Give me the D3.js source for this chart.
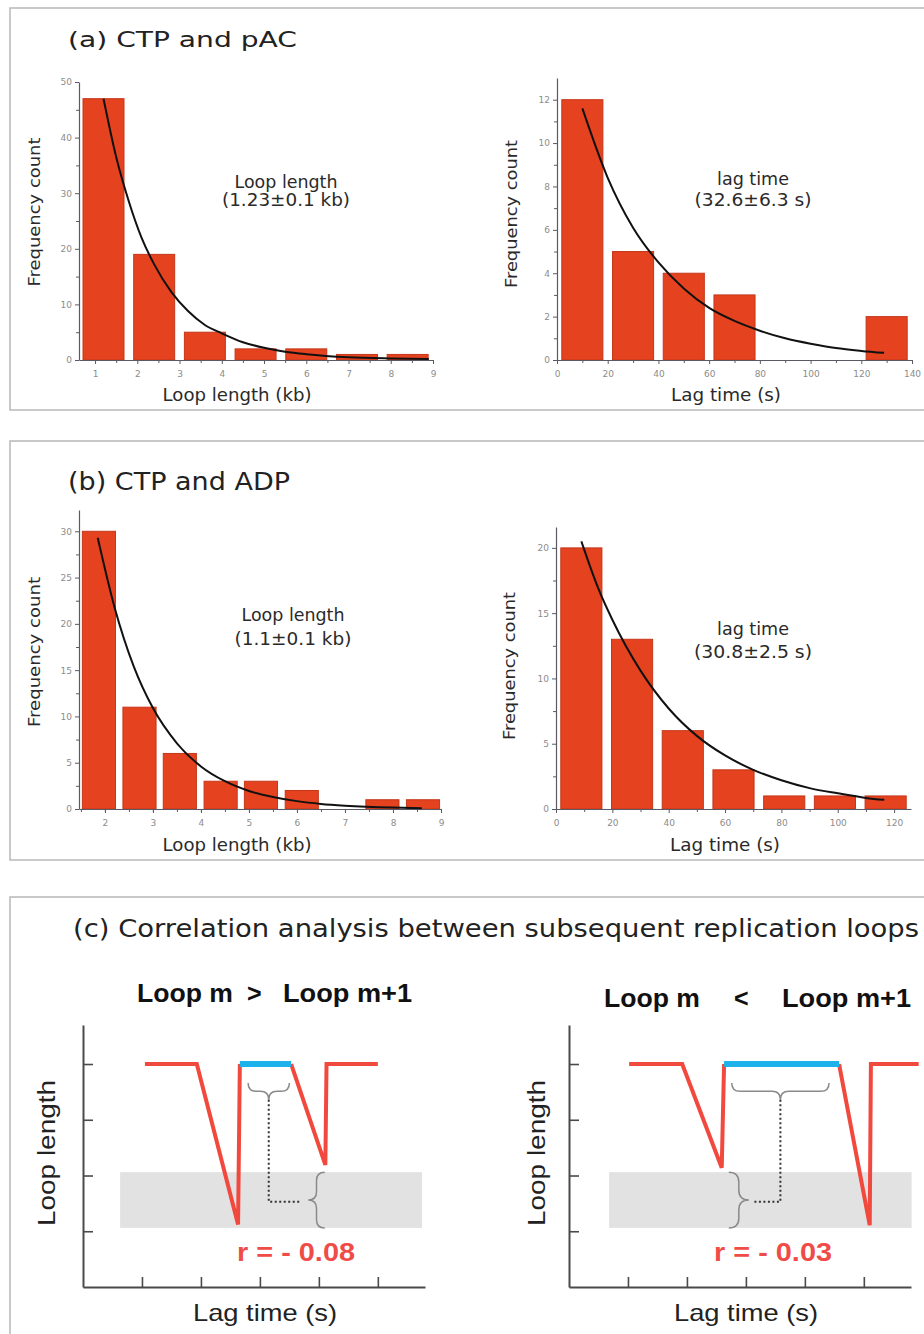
<!DOCTYPE html>
<html>
<head>
<meta charset="utf-8">
<title>Loop length and lag time</title>
<script src="https://cdn.jsdelivr.net/npm/d3@7"></script>
<style>
  body { margin: 0; background: #ffffff; }
  svg { display: block; }
</style>
</head>
<body>
<div id="chart-container"></div>
<script>
// ---- (a) CTP and pAC ----
const loopBinsA = [1.2, 2.4, 3.6, 4.8, 6.0, 7.2, 8.4];
const loopCountsA = [47, 19, 5, 2, 2, 1, 1];
const loopFitA = [[1.2, 47], [1.5, 36.5], [1.8, 28.5], [2.1, 22], [2.4, 17.2], [2.8, 12.3], [3.2, 8.8],
  [3.6, 6.3], [4.0, 4.8], [4.5, 3.2], [5.0, 2.2], [5.5, 1.5], [6.0, 1.05], [7.0, 0.5], [8.0, 0.28], [8.9, 0.18]];
const loopTicksA = [1, 2, 3, 4, 5, 6, 7, 8, 9];
const loopCountTicksA = [0, 10, 20, 30, 40, 50];

const lagBinsA = [10, 30, 50, 70, 90, 110, 130];
const lagCountsA = [12, 5, 4, 3, 0, 0, 2];
const lagFitA = [[10, 11.6], [20, 8.4], [30, 6.1], [40, 4.5], [50, 3.3], [60, 2.4], [70, 1.8],
  [80, 1.35], [90, 1.0], [100, 0.75], [110, 0.55], [120, 0.42], [129, 0.33]];
const lagTicksA = [0, 20, 40, 60, 80, 100, 120, 140];
const lagCountTicksA = [0, 2, 4, 6, 8, 10, 12];

// ---- (b) CTP and ADP ----
const loopBinsB = [1.875, 2.72, 3.56, 4.41, 5.25, 6.1, 6.94, 7.78, 8.625];
const loopCountsB = [30, 11, 6, 3, 3, 2, 0, 1, 1];
const loopFitB = [[1.85, 29.3], [2.2, 21.8], [2.6, 15.4], [3.0, 10.9], [3.5, 7.1], [4.0, 4.6], [4.5, 3.0],
  [5.0, 1.95], [5.5, 1.3], [6.0, 0.85], [6.5, 0.55], [7.0, 0.36], [8.0, 0.15], [8.6, 0.09]];
const loopTicksB = [2, 3, 4, 5, 6, 7, 8, 9];
const loopCountTicksB = [0, 5, 10, 15, 20, 25, 30];

const lagBinsB = [9, 27, 45, 63, 81, 99, 117];
const lagCountsB = [20, 13, 6, 3, 1, 1, 1];
const lagFitB = [[9, 20.5], [15, 16.9], [20, 14.5], [30, 10.6], [40, 7.7], [50, 5.6], [60, 4.1],
  [70, 3.0], [80, 2.2], [90, 1.6], [100, 1.2], [110, 0.85], [116.5, 0.7]];
const lagTicksB = [0, 20, 40, 60, 80, 100, 120];
const lagCountTicksB = [0, 5, 10, 15, 20];

// ---- (c) correlation schematic (arbitrary units) ----
const schemeTicksX = [1, 2, 3, 4, 5];
const schemeTicksY = [1, 2, 3, 4];

const traceLeftA = [[1.05, 4], [1.93, 4], [2.63, 1.12], [2.66, 4]];
const traceLeftB = [[3.53, 4], [4.11, 2.19], [4.13, 4], [5.0, 4]];
const lagSpanLeft = [[2.66, 4], [3.53, 4]];
const bandLeft = [[0.63, 1.06], [5.75, 2.06]];
const braceTopLeft = [[2.8, 3.66], [3.5, 3.66]];
const dotLeft = [[3.15, 3.36], [3.15, 1.53], [3.68, 1.53]];
const braceSideLeft = [[4.1, 2.06], [4.1, 1.06]];

const traceRightA = [[1.02, 4], [1.92, 4], [2.59, 2.14], [2.63, 4]];
const traceRightB = [[4.58, 4], [5.1, 1.11], [5.12, 4], [5.93, 4]];
const lagSpanRight = [[2.63, 4], [4.58, 4]];
const bandRight = [[0.68, 1.06], [5.81, 2.06]];
const braceTopRight = [[2.76, 3.66], [4.41, 3.66]];
const dotRight = [[3.585, 3.36], [3.585, 1.53], [3.14, 1.53]];
const braceSideRight = [[2.71, 2.06], [2.71, 1.06]];

// ---- page ----
const width = 924;
const height = 1334;
const histFont = '"DejaVu Sans", Verdana, sans-serif';
const helvFont = '"Liberation Sans", Arial, Helvetica, sans-serif';
const axisColor = '#5a5a66';

const svg = d3.select('#chart-container')
  .append('svg')
  .attr('width', width)
  .attr('height', height);

// panel frames
[[10, 8, 402], [10, 441, 419], [10, 897, 460]].forEach(([fx, fy, fh]) => {
  svg.append('rect')
    .attr('x', fx).attr('y', fy)
    .attr('width', 940).attr('height', fh)
    .attr('fill', 'none')
    .attr('stroke', '#b8b8b8')
    .attr('stroke-width', 1.5);
});

function label(parent, str, x, y, size, len, opts = {}) {
  const t = parent.append('text')
    .attr('x', x)
    .attr('y', y)
    .attr('text-anchor', opts.anchor || 'middle')
    .style('font-family', opts.family || histFont)
    .style('font-size', size + 'px')
    .style('font-weight', opts.weight || 'normal')
    .attr('fill', opts.color || '#2a2a2a')
    .text(str);
  if (len) t.attr('textLength', len).attr('lengthAdjust', 'spacingAndGlyphs');
  if (opts.rotate) t.attr('transform', 'rotate(-90)');
  return t;
}

function styleAxis(sel) {
  sel.select('.domain').attr('stroke', axisColor).attr('stroke-width', 1.2);
  sel.selectAll('.tick line').attr('stroke', axisColor).attr('stroke-width', 1);
  sel.selectAll('.tick text')
    .attr('fill', '#8c8c8c')
    .style('font-family', histFont)
    .style('font-size', '9px');
}

function drawHistogram(cfg) {
  const x = d3.scaleLinear().domain(cfg.xDomain).range(cfg.xRange);
  const y = d3.scaleLinear().domain(cfg.yDomain).range(cfg.yRange);
  const g = svg.append('g').attr('class', 'hist');

  const rows = cfg.bins
    .map((b, i) => ({ bin: b, count: cfg.counts[i] }))
    .filter(d => d.count > 0);

  g.selectAll('.bar')
    .data(rows)
    .enter()
    .append('rect')
    .attr('class', 'bar')
    .attr('x', d => x(d.bin - cfg.barWidth / 2))
    .attr('y', d => y(d.count))
    .attr('width', d => x(d.bin + cfg.barWidth / 2) - x(d.bin - cfg.barWidth / 2))
    .attr('height', d => y(0) - y(d.count))
    .attr('fill', '#e5421f')
    .attr('stroke', '#c4371a')
    .attr('stroke-width', 1);

  // minor ticks
  g.append('g')
    .attr('transform', `translate(0,${y(0)})`)
    .call(d3.axisBottom(x).tickValues(cfg.xMinor).tickSize(3).tickFormat(''))
    .call(styleAxis)
    .select('.domain').remove();
  g.append('g')
    .attr('transform', `translate(${x.range()[0]},0)`)
    .call(d3.axisLeft(y).tickValues(cfg.yMinor).tickSize(3).tickFormat(''))
    .call(styleAxis)
    .select('.domain').remove();

  // major axes
  g.append('g')
    .attr('class', 'x-axis')
    .attr('transform', `translate(0,${y(0)})`)
    .call(d3.axisBottom(x).tickValues(cfg.xTicks).tickSize(4).tickSizeOuter(0).tickPadding(7))
    .call(styleAxis);
  g.append('g')
    .attr('class', 'y-axis')
    .attr('transform', `translate(${x.range()[0]},0)`)
    .call(d3.axisLeft(y).tickValues(cfg.yTicks).tickSize(4).tickSizeOuter(0).tickPadding(3))
    .call(styleAxis);

  // exponential fit
  g.append('path')
    .datum(cfg.fit)
    .attr('d', d3.line().x(d => x(d[0])).y(d => y(d[1])).curve(d3.curveMonotoneX))
    .attr('fill', 'none')
    .attr('stroke', '#111')
    .attr('stroke-width', 2);

  // labels
  label(g, cfg.xLabel[0], cfg.xLabel[1], cfg.xLabel[2], 17, cfg.xLabel[3]);
  label(g, 'Frequency count', -cfg.yLabel[1], cfg.yLabel[0], 16, cfg.yLabel[2], { rotate: true });
  label(g, cfg.note[0], cfg.note[2], cfg.note[3], 17, cfg.note[5]);
  label(g, cfg.note[1], cfg.note[2], cfg.note[4], 17, cfg.note[6]);
}

const histograms = [
  {
    bins: loopBinsA, counts: loopCountsA, fit: loopFitA, barWidth: 0.97,
    xDomain: [0.62, 9], xRange: [79, 433], yDomain: [0, 50], yRange: [360, 82],
    xTicks: loopTicksA, xMinor: d3.range(1.5, 9, 1), yTicks: loopCountTicksA, yMinor: d3.range(5, 50, 10),
    xLabel: ['Loop length (kb)', 237, 401, 149], yLabel: [40, 212, 149],
    note: ['Loop length', '(1.23±0.1 kb)', 286, 188, 206, 103, 128]
  },
  {
    bins: lagBinsA, counts: lagCountsA, fit: lagFitA, barWidth: 16.2,
    xDomain: [0, 140], xRange: [557, 912], yDomain: [0, 13], yRange: [360, 78],
    xTicks: lagTicksA, xMinor: d3.range(10, 140, 20), yTicks: lagCountTicksA, yMinor: d3.range(1, 13, 2),
    xLabel: ['Lag time (s)', 726, 401, 110], yLabel: [517, 214, 148],
    note: ['lag time', '(32.6±6.3 s)', 753, 185, 206, 72, 117]
  },
  {
    bins: loopBinsB, counts: loopCountsB, fit: loopFitB, barWidth: 0.69,
    xDomain: [1.46, 9], xRange: [79, 441], yDomain: [0, 32.3], yRange: [809, 510],
    xTicks: loopTicksB, xMinor: d3.range(1.5, 9, 0.5), yTicks: loopCountTicksB, yMinor: d3.range(2.5, 31, 5),
    xLabel: ['Loop length (kb)', 237, 851, 149], yLabel: [40, 652, 150],
    note: ['Loop length', '(1.1±0.1 kb)', 293, 621, 645, 103, 117]
  },
  {
    bins: lagBinsB, counts: lagCountsB, fit: lagFitB, barWidth: 14.6,
    xDomain: [0, 126], xRange: [556, 911], yDomain: [0, 21.6], yRange: [809, 527],
    xTicks: lagTicksB, xMinor: d3.range(10, 126, 20), yTicks: lagCountTicksB, yMinor: d3.range(2.5, 21, 5),
    xLabel: ['Lag time (s)', 725, 851, 110], yLabel: [515, 666, 148],
    note: ['lag time', '(30.8±2.5 s)', 753, 635, 658, 72, 118]
  }
];

histograms.forEach(drawHistogram);

// panel titles
label(svg, '(a) CTP and pAC', 68, 47, 22, 229, { anchor: 'start', color: '#222' });
label(svg, '(b) CTP and ADP', 68, 490, 25, 222, { anchor: 'start', color: '#222' });
label(svg, '(c) Correlation analysis between subsequent replication loops', 73, 937, 24, 846,
  { anchor: 'start', color: '#222' });

// curly brace between two points, tip pushed sideways by depth
function bracePath(p0, p1, depth) {
  const dx = p1[0] - p0[0], dy = p1[1] - p0[1];
  const len = Math.hypot(dx, dy);
  const ux = dx / len, uy = dy / len;
  const nx = -uy, ny = ux;
  const a = Math.abs(depth) / 2;
  const h = depth / 2;
  const p = (t, s) => [p0[0] + ux * t + nx * s, p0[1] + uy * t + ny * s].join(',');
  return `M${p(0, 0)} Q${p(0, h)} ${p(a, h)} L${p(len / 2 - a, h)} Q${p(len / 2, h)} ${p(len / 2, depth)}` +
    ` Q${p(len / 2, h)} ${p(len / 2 + a, h)} L${p(len - a, h)} Q${p(len, h)} ${p(len, 0)}`;
}

function drawScheme(cfg) {
  const x = d3.scaleLinear().domain([0, 5.8]).range(cfg.xRange);
  const y = d3.scaleLinear().domain([0, 4.7]).range([1287, 1025]);
  const g = svg.append('g').attr('class', 'scheme');
  const line = d3.line().x(d => x(d[0])).y(d => y(d[1]));

  g.append('rect')
    .datum(cfg.band)
    .attr('x', d => x(d[0][0]))
    .attr('y', d => y(d[1][1]))
    .attr('width', d => x(d[1][0]) - x(d[0][0]))
    .attr('height', d => y(d[0][1]) - y(d[1][1]))
    .attr('fill', '#e2e2e2');

  const yAx = g.append('g')
    .attr('transform', `translate(${x(0)},0)`)
    .call(d3.axisRight(y).tickValues(schemeTicksY).tickSize(10).tickSizeOuter(0).tickFormat(''));
  const xAx = g.append('g')
    .attr('transform', `translate(0,${y(0)})`)
    .call(d3.axisTop(x).tickValues(schemeTicksX).tickSize(10).tickSizeOuter(0).tickFormat(''));
  [yAx, xAx].forEach(ax => {
    ax.select('.domain').attr('stroke', '#4a4a4a').attr('stroke-width', 2);
    ax.selectAll('.tick line').attr('stroke', '#4a4a4a').attr('stroke-width', 1.6);
  });

  // braces and dotted link
  g.append('path')
    .attr('d', bracePath([x(cfg.braceTop[0][0]), y(cfg.braceTop[0][1])],
      [x(cfg.braceTop[1][0]), y(cfg.braceTop[1][1])], y(3.36) - y(3.66)))
    .attr('fill', 'none').attr('stroke', '#8a8a8a').attr('stroke-width', 1.5);
  g.append('path')
    .attr('d', bracePath([x(cfg.braceSide[0][0]), y(cfg.braceSide[0][1])],
      [x(cfg.braceSide[1][0]), y(cfg.braceSide[1][1])], x(cfg.braceSide[0][0]) - x(cfg.braceTip)))
    .attr('fill', 'none').attr('stroke', '#8a8a8a').attr('stroke-width', 1.5);
  g.append('path')
    .datum(cfg.dot)
    .attr('d', line)
    .attr('fill', 'none')
    .attr('stroke', '#333')
    .attr('stroke-width', 2)
    .attr('stroke-dasharray', '2,2.5');

  // loop traces
  [cfg.traceA, cfg.traceB].forEach(tr => {
    g.append('path')
      .datum(tr)
      .attr('d', line)
      .attr('fill', 'none')
      .attr('stroke', '#f2493e')
      .attr('stroke-width', 4);
  });
  g.append('path')
    .datum(cfg.span)
    .attr('d', line)
    .attr('fill', 'none')
    .attr('stroke', '#1db3ea')
    .attr('stroke-width', 6);

  // text
  label(g, cfg.title[0], cfg.title[1], cfg.title[4], 25, 96, { anchor: 'start', family: helvFont, weight: 'bold', color: '#111' });
  label(g, cfg.title[5], cfg.title[2], cfg.title[4], 25, null, { anchor: 'start', family: helvFont, weight: 'bold', color: '#111' });
  label(g, 'Loop m+1', cfg.title[3], cfg.title[4], 25, 129, { anchor: 'start', family: helvFont, weight: 'bold', color: '#111' });
  label(g, cfg.r, cfg.rPos[0], 1261, 26, 118, { anchor: 'start', family: helvFont, weight: 'bold', color: '#f04c47' });
  label(g, 'Lag time (s)', cfg.lagLabel, 1321, 24, 144, { family: helvFont, color: '#222' });
  label(g, 'Loop length', -1153, cfg.loopLabel, 23, 146, { family: helvFont, color: '#222', rotate: true });
}

drawScheme({
  xRange: [83, 425], band: bandLeft, traceA: traceLeftA, traceB: traceLeftB, span: lagSpanLeft,
  braceTop: braceTopLeft, braceSide: braceSideLeft, braceTip: 3.82, dot: dotLeft,
  title: ['Loop m', 137, 247, 283, 1002, '>'], r: 'r = - 0.08', rPos: [237],
  lagLabel: 265, loopLabel: 55
});
drawScheme({
  xRange: [569, 911], band: bandRight, traceA: traceRightA, traceB: traceRightB, span: lagSpanRight,
  braceTop: braceTopRight, braceSide: braceSideRight, braceTip: 3.05, dot: dotRight,
  title: ['Loop m', 604, 734, 782, 1007, '<'], r: 'r = - 0.03', rPos: [714],
  lagLabel: 746, loopLabel: 545
});
</script>
</body>
</html>
